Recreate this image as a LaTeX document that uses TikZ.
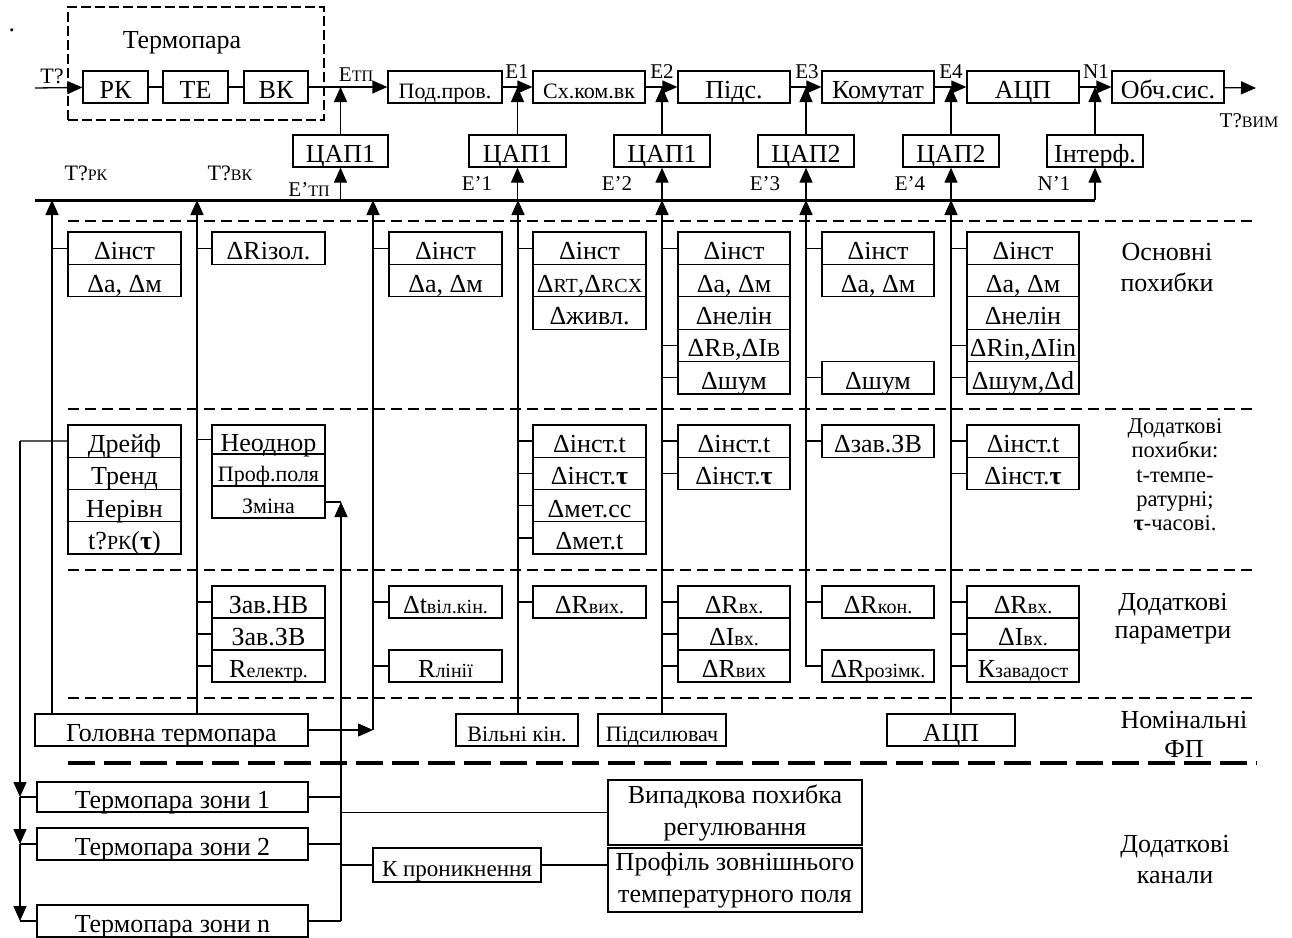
\documentclass[tikz,border=0pt]{standalone}
\usepackage{fontspec}
\setmainfont{Liberation Serif}
\usetikzlibrary{arrows.meta}
\newcommand\fsN{\fontsize{26}{28}\selectfont}
\newcommand\fsS{\fontsize{22}{24}\selectfont}
\newcommand\fsL{\fontsize{21}{24}\selectfont}
\newcommand\subtx[1]{{\fontsize{20}{20}\selectfont #1}}
\newcommand\subls[1]{{\fontsize{16}{16}\selectfont #1}}
\newcommand\bx[6]{\node[cell, minimum width={#4-#2}, minimum height={#5-#3}] (#1) at ({(#2+#4)/2},{(#3+#5)/2}) {#6};}
\newcommand\mbx[6]{\node[mcell, minimum width={#4-#2}, minimum height={#5-#3}] (#1) at ({(#2+#4)/2},{(#3+#5)/2}) {#6};}
\begin{document}
\begin{tikzpicture}[x=1pt,y=-1pt,
  every node/.style={inner sep=0pt, font=\fsN},
  cell/.style={draw, line width=1.3pt, inner sep=0pt, font=\fsN, text height=23pt, text depth=0pt},
  mcell/.style={draw, line width=1.3pt, inner sep=0pt, font=\fontsize{26}{32}\selectfont, align=center},
  ln/.style={line width=1.3pt},
  arr/.style={-{Triangle[length=15pt,width=13pt]}},
  thindash/.style={line width=1.1pt, dash pattern=on 11pt off 6pt},
  thickdash/.style={line width=4pt, dash pattern=on 27pt off 9pt},
  lbl/.style={font=\fsL},
  side/.style={font=\fontsize{26}{31}\selectfont, align=center}
]
\useasboundingbox (0,0) rectangle (1292,937);
\fill[white] (0,0) rectangle (1292,937);

% ---------- top chain ----------
\node[draw, line width=1.3pt, dash pattern=on 10pt off 4pt, minimum width=256, minimum height=113] (tpbox) at (196,63.5) {};
\node (dot) at (12,30) {.};
\node (ttl) at (182,43) {Термопара};
\bx{rk}{83}{71}{148}{103}{РК}
\bx{te}{163}{71}{228}{103}{ТЕ}
\bx{vk}{244}{71}{308}{103}{ВК}
\bx{pp}{388}{71}{502}{103}{\fsS Под.пров.}
\bx{sk}{533}{71}{645}{103}{\fsS Сх.ком.вк}
\bx{pid}{678}{71}{790}{103}{Підс.}
\bx{kom}{822}{71}{934}{103}{Комутат}
\bx{adc}{967}{71}{1079}{103}{АЦП}
\bx{obch}{1112}{71}{1224}{103}{Обч.сис.}
\coordinate (tin) at (35,88);
\coordinate (tout) at (1256,88);

\draw[ln,arr] (tin) -- (rk);
\draw[ln] (rk) -- (te);
\draw[ln] (te) -- (vk);
\draw[ln,arr] (vk) -- (pp);
\draw[ln,arr] (pp) -- (sk);
\draw[ln,arr] (sk) -- (pid);
\draw[ln,arr] (pid) -- (kom);
\draw[ln,arr] (kom) -- (adc);
\draw[ln,arr] (adc) -- (obch);
\draw[ln,arr] (obch) -- (tout);

\node[font=\fontsize{22}{24}\selectfont] (lT) at (52,76) {Т?};
\node[lbl] (lEtp) at (356,75) {E\subls{ТП}};
\node[lbl] (lE1) at (517,72) {E1};
\node[lbl] (lE2) at (662,72) {E2};
\node[lbl] (lE3) at (807,72) {E3};
\node[lbl] (lE4) at (951,72) {E4};
\node[lbl] (lN1) at (1096,72) {N1};
\node[lbl] (lTv) at (1249,121) {Т?\subls{ВИМ}};

% ---------- DACs ----------
\bx{d0}{293}{135}{388}{167}{ЦАП1}
\bx{d1}{469}{135}{566}{167}{ЦАП1}
\bx{d2}{614}{135}{710}{167}{ЦАП1}
\bx{d3}{758}{135}{854}{167}{ЦАП2}
\bx{d4}{903}{135}{999}{167}{ЦАП2}
\bx{intf}{1047}{135}{1143}{167}{Інтерф.}

\draw[ln,arr] (d0) -- (d0 |- vk);
\draw[ln,arr] (d1) -- (d1 |- pp);
\draw[ln,arr] (d2) -- (d2 |- pp);
\draw[ln,arr] (d3) -- (d3 |- pp);
\draw[ln,arr] (d4) -- (d4 |- pp);
\draw[ln,arr] (intf) -- (intf |- pp);

\node[lbl] (lE0p) at (309,190) {E’\subls{ТП}};
\node[lbl] (lE1p) at (477,184) {E’1};
\node[lbl] (lE2p) at (617,184) {E’2};
\node[lbl] (lE3p) at (765,184) {E’3};
\node[lbl] (lE4p) at (910,184) {E’4};
\node[lbl] (lN1p) at (1054,184) {N’1};
\node[font=\fontsize{22}{24}\selectfont] (lTrk) at (86,173) {Т?\subls{РК}};
\node[font=\fontsize{22}{24}\selectfont] (lTvk) at (230,173) {Т?\subls{ВК}};

% ---------- bus ----------
\coordinate (busL) at (35,200);
\draw[line width=3pt] (busL) -- (intf |- busL);
\draw[ln,arr] (intf |- busL) -- (intf);
\draw[ln,arr] (d0 |- busL) -- (d0);
\draw[ln,arr] (d1 |- busL) -- (d1);
\draw[ln,arr] (d2 |- busL) -- (d2);
\draw[ln,arr] (d3 |- busL) -- (d3);
\draw[ln,arr] (d4 |- busL) -- (d4);

\coordinate (v1) at (52,200);
\coordinate (v2) at (197,200);
\coordinate (v3) at (373,200);
\coordinate (v4) at (518,200);
\coordinate (v5) at (662,200);
\coordinate (v6) at (806,200);
\coordinate (v7) at (951,200);

% ---------- separators ----------
\coordinate (sL1) at (68,221);   \coordinate (sR1) at (1257,221);
\coordinate (sL2) at (68,409);   \coordinate (sR2) at (1257,409);
\coordinate (sL3) at (68,570);   \coordinate (sR3) at (1257,570);
\coordinate (sL4) at (68,698);   \coordinate (sR4) at (1257,698);
\coordinate (sL5) at (68,763);   \coordinate (sR5) at (1257,763);
\draw[thindash] (sL1) -- (sR1);
\draw[thindash] (sL2) -- (sR2);
\draw[thindash] (sL3) -- (sR3);
\draw[thindash] (sL4) -- (sR4);
\draw[thickdash] (sL5) -- (sR5);

% ---------- row 1: basic errors ----------
\bx{c1a}{68}{232}{181}{264.4}{Δінст}
\bx{c1b}{68}{264.4}{181}{296.8}{Δа, Δм}
\bx{c2a}{212}{232}{325}{264.4}{ΔRізол.}
\bx{c3a}{389}{232}{502}{264.4}{Δінст}
\bx{c3b}{389}{264.4}{502}{296.8}{Δа, Δм}
\bx{c4a}{533}{232}{646}{264.4}{Δінст}
\bx{c4b}{533}{264.4}{646}{296.8}{Δ\subtx{RT},Δ\subtx{RCX}}
\bx{c4c}{533}{296.8}{646}{329.2}{Δживл.}
\bx{c5a}{678}{232}{790}{264.4}{Δінст}
\bx{c5b}{678}{264.4}{790}{296.8}{Δа, Δм}
\bx{c5c}{678}{296.8}{790}{329.2}{Δнелін}
\bx{c5d}{678}{329.2}{790}{361.6}{ΔR\subtx{В},ΔI\subtx{В}}
\bx{c5e}{678}{361.6}{790}{394}{Δшум}
\bx{c6a}{822}{232}{934}{264.4}{Δінст}
\bx{c6b}{822}{264.4}{934}{296.8}{Δа, Δм}
\bx{c6e}{822}{361.6}{934}{394}{Δшум}
\bx{c7a}{967}{232}{1079}{264.4}{Δінст}
\bx{c7b}{967}{264.4}{1079}{296.8}{Δа, Δм}
\bx{c7c}{967}{296.8}{1079}{329.2}{Δнелін}
\bx{c7d}{967}{329.2}{1079}{361.6}{ΔRin,ΔIin}
\bx{c7e}{967}{361.6}{1079}{394}{Δшум,Δd}

% ---------- row 2: additional errors ----------
\bx{d1a}{68}{425}{181}{457.25}{Дрейф}
\bx{d1b}{68}{457.25}{181}{489.5}{Тренд}
\bx{d1c}{68}{489.5}{181}{521.75}{Нерівн}
\bx{d1d}{68}{521.75}{181}{554}{t?\subtx{РК}(\textbf{τ})}
\bx{d2a}{212}{425}{325}{454}{Неоднор}
\bx{d2b}{212}{454}{325}{486}{\fsS Проф.поля}
\bx{d2c}{212}{486}{325}{518}{\fsS Зміна}
\bx{d4a}{533}{425}{646}{457.25}{Δінст.t}
\bx{d4b}{533}{457.25}{646}{489.5}{Δінст.\textbf{τ}}
\bx{d4c}{533}{489.5}{646}{521.75}{Δмет.cc}
\bx{d4d}{533}{521.75}{646}{554}{Δмет.t}
\bx{d5a}{678}{425}{790}{457.25}{Δінст.t}
\bx{d5b}{678}{457.25}{790}{489.5}{Δінст.\textbf{τ}}
\bx{d6a}{822}{425}{934}{457.25}{Δзав.ЗВ}
\bx{d7a}{967}{425}{1079}{457.25}{Δінст.t}
\bx{d7b}{967}{457.25}{1079}{489.5}{Δінст.\textbf{τ}}

% ---------- row 3: additional parameters ----------
\bx{e2a}{212}{586}{325}{618}{Зав.НВ}
\bx{e2b}{212}{618}{325}{650}{Зав.ЗВ}
\bx{e2c}{212}{650}{325}{682}{R\subtx{електр.}}
\bx{e3a}{389}{586}{502}{618}{Δt\subtx{віл.кін.}}
\bx{e3c}{389}{650}{502}{682}{R\subtx{лінії}}
\bx{e4a}{533}{586}{646}{618}{ΔR\subtx{вих.}}
\bx{e5a}{678}{586}{790}{618}{ΔR\subtx{вх.}}
\bx{e5b}{678}{618}{790}{650}{ΔI\subtx{вх.}}
\bx{e5c}{678}{650}{790}{682}{ΔR\subtx{вих}}
\bx{e6a}{822}{586}{934}{618}{ΔR\subtx{кон.}}
\bx{e6c}{822}{650}{934}{682}{ΔR\subtx{розімк.}}
\bx{e7a}{967}{586}{1079}{618}{ΔR\subtx{вх.}}
\bx{e7b}{967}{618}{1079}{650}{ΔI\subtx{вх.}}
\bx{e7c}{967}{650}{1079}{682}{К\subtx{завадост}}

% ---------- row 4: nominal ----------
\bx{gt}{35}{714}{308}{746}{Головна термопара}
\bx{vkin}{456}{714}{578}{746}{\fsS Вільні кін.}
\bx{pdsl}{598}{714}{726}{746}{\fsS Підсилювач}
\bx{adc2}{887}{714}{1015}{746}{АЦП}

% ---------- verticals into bus ----------
\draw[ln,arr] (v1 |- gt.north) -- (v1);
\draw[ln,arr] (v2 |- gt.north) -- (v2);
\draw[ln,arr] (gt) -- (gt -| v3);
\draw[ln,arr] (gt -| v3) -- (v3);
\draw[ln,arr] (v4 |- vkin.north) -- (v4);
\draw[ln,arr] (v5 |- pdsl.north) -- (v5);
\draw[ln,arr] (e6c.west) -| (v6);
\draw[ln,arr] (v7 |- adc2.north) -- (v7);

% ---------- stubs ----------
\foreach \v/\c in {v1/c1a, v2/c2a, v2/d2a, v2/e2a, v2/e2b, v2/e2c,
  v3/c3a, v3/e3a, v3/e3c,
  v4/c4a, v4/d4a, v4/d4b, v4/d4c, v4/d4d, v4/e4a,
  v5/c5a, v5/c5d, v5/c5e, v5/d5a, v5/d5b, v5/e5a, v5/e5b, v5/e5c,
  v6/c6a, v6/c6e, v6/d6a, v6/e6a,
  v7/c7a, v7/c7d, v7/c7e, v7/d7a, v7/d7b, v7/e7a, v7/e7b, v7/e7c}
  {\draw[ln] (\v |- \c) -- (\c);}

% ---------- additional channels ----------
\bx{z1}{37}{782}{308}{812}{Термопара зони 1}
\bx{z2}{37}{828}{308}{860}{Термопара зони 2}
\bx{zn}{37}{905}{308}{937}{Термопара зони n}
\mbx{vyp}{608}{780}{862}{845}{Випадкова похибка\\регулювання}
\bx{kpr}{373}{848}{541}{882}{\fontsize{23}{25}\selectfont К проникнення}
\mbx{prof}{608}{848}{862}{912}{Профіль зовнішнього\\температурного поля}

\coordinate (L) at (20,441);
\coordinate (vz) at (341,506);
\draw[ln] (L) -- (d1a);
\draw[ln,arr] (L) -- (L |- z1);
\draw[ln,arr] (L |- z1) -- (L |- z2);
\draw[ln,arr] (L |- z2) -- (L |- zn);
\draw[ln] (L |- z1) -- (z1);
\draw[ln] (L |- z2) -- (z2);
\draw[ln] (L |- zn) -- (zn);
\draw[ln] (d2c) -- (d2c -| vz);
\draw[ln,arr] (vz |- zn) -- (d2c -| vz);
\draw[ln] (z1) -- (z1 -| vz);
\draw[ln] (z2) -- (z2 -| vz);
\draw[ln] (zn) -- (zn -| vz);
\draw[ln] (vz |- vyp) -- (vyp);
\draw[ln] (vz |- kpr) -- (kpr);
\draw[ln] (kpr.east) -- (kpr.east -| prof.west);

% ---------- side labels ----------
\node[side] (s1) at (1167,268) {Основні\\похибки};
\node[side, font=\fontsize{22.5}{24.3}\selectfont] (s2) at (1175,475) {Додаткові\\похибки:\\t-темпе-\\ратурні;\\\textbf{τ}-часові.};
\node[side, font=\fontsize{26}{28}\selectfont] (s3) at (1173,619) {Додаткові\\параметри};
\node[side, font=\fontsize{26}{29}\selectfont] (s4) at (1184,734) {Номінальні\\ФП};
\node[side] (s5) at (1175,860) {Додаткові\\канали};
\end{tikzpicture}
\end{document}
